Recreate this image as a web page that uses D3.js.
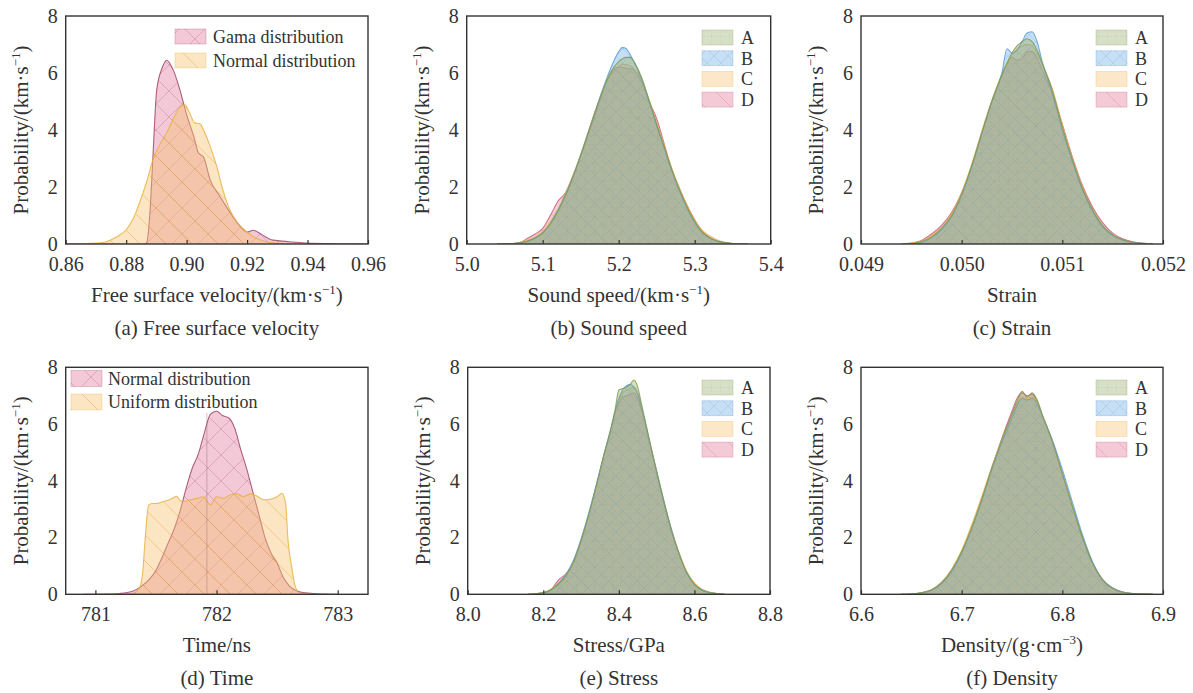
<!DOCTYPE html>
<html>
<head>
<meta charset="utf-8">
<script src="https://cdn.jsdelivr.net/npm/d3@7"></script>
<style>
  html, body { margin: 0; padding: 0; background: #fff; }
  svg { display: block; }
  text { font-family: "Liberation Serif", "Times New Roman", serif; fill: #333; }
</style>
</head>
<body>
<svg id="chart" width="1193" height="693"></svg>
<script>
// ---------------- DATA ----------------
const yTicks = [0, 2, 4, 6, 8];

// (a) Free surface velocity
const aTicks = [0.86, 0.88, 0.90, 0.92, 0.94, 0.96];
const aGamaX = [0.86,0.886,0.8868,0.8878,0.8888,0.8901,0.892,0.8934,0.8956,0.8978,0.9001,0.9023,0.9039,0.9056,0.9078,0.9111,0.9144,0.9177,0.92,0.922,0.925,0.928,0.93,0.935,0.94,0.95,0.96];
const aGamaY = [0,0,0.05,1.0,2.95,5.4,6.2,6.45,6.1,5.4,4.5,3.8,3.2,3.05,2.25,1.66,1.1,0.62,0.42,0.48,0.32,0.15,0.12,0.07,0.03,0.01,0];
const aNormX = [0.862,0.866,0.87,0.8735,0.877,0.88,0.8824,0.8846,0.8868,0.889,0.8912,0.8934,0.8956,0.8978,0.8994,0.901,0.9027,0.9044,0.906,0.9077,0.9099,0.912,0.9143,0.9165,0.9198,0.9231,0.9264,0.9319,0.94];
const aNormY = [0,0.01,0.03,0.08,0.26,0.5,0.9,1.5,2.2,3.0,3.5,3.9,4.4,4.8,4.88,4.6,4.25,4.22,3.9,3.45,2.75,1.9,1.2,0.8,0.43,0.2,0.08,0.02,0];

// (b) Sound speed
const bTicks = [5.0, 5.1, 5.2, 5.3, 5.4];
const bX = [5.04,5.06,5.07,5.08,5.09,5.10,5.11,5.12,5.13,5.14,5.15,5.16,5.17,5.18,5.19,5.20,5.205,5.21,5.215,5.22,5.23,5.24,5.25,5.26,5.27,5.28,5.29,5.30,5.31,5.32,5.33,5.34,5.35,5.37];
const bA = [0,0.01,0.04,0.1,0.2,0.38,0.7,1.15,1.7,2.35,3.1,3.9,4.7,5.45,6.05,6.4,6.5,6.55,6.55,6.4,5.85,5.05,4.2,3.4,2.6,1.9,1.3,0.78,0.42,0.22,0.1,0.05,0.02,0];
const bB = [0,0.01,0.04,0.1,0.22,0.4,0.72,1.18,1.72,2.38,3.12,3.92,4.72,5.5,6.2,6.75,6.9,6.85,6.65,6.4,5.8,5.0,4.15,3.35,2.55,1.85,1.25,0.75,0.4,0.2,0.1,0.04,0.02,0];
const bC = [0,0.02,0.06,0.14,0.25,0.45,0.78,1.22,1.78,2.42,3.15,3.95,4.75,5.45,6.0,6.25,6.3,6.3,6.25,6.15,5.75,5.05,4.25,3.45,2.65,1.95,1.35,0.82,0.48,0.28,0.14,0.06,0.02,0];
const bD = [0,0.01,0.05,0.2,0.35,0.55,1.0,1.5,1.8,2.4,3.1,3.85,4.6,5.4,6.0,6.2,6.2,6.15,6.15,6.1,5.7,5.0,4.4,3.5,2.6,1.95,1.35,0.85,0.45,0.22,0.1,0.04,0.01,0];

// (c) Strain
const cTicks = [0.049, 0.050, 0.051, 0.052];
const cX = [0.0494,0.0495,0.0496,0.0497,0.0498,0.0499,0.0500,0.0501,0.0502,0.0503,0.0504,0.05045,0.0505,0.05055,0.0506,0.05065,0.0507,0.05075,0.0508,0.0509,0.0510,0.0511,0.0512,0.0513,0.0514,0.0515,0.0516,0.0517,0.0518,0.0519];
const cA = [0,0.02,0.08,0.25,0.55,1.0,1.75,2.75,3.9,5.0,5.95,6.35,6.7,6.95,7.1,7.2,7.1,6.8,6.35,5.4,4.1,2.95,1.95,1.2,0.65,0.32,0.14,0.06,0.02,0];
const cB = [0,0.01,0.06,0.22,0.5,0.95,1.7,2.7,3.85,5.0,6.0,6.85,6.7,6.8,7.1,7.4,7.45,7.1,6.4,5.3,4.0,2.9,1.9,1.15,0.6,0.3,0.14,0.06,0.02,0];
const cC = [0,0.03,0.1,0.3,0.6,1.05,1.8,2.8,3.95,5.05,5.95,6.3,6.6,6.85,6.95,7.0,6.95,6.7,6.3,5.45,4.2,3.0,2.0,1.2,0.65,0.32,0.14,0.06,0.02,0];
const cD = [0,0.03,0.12,0.35,0.65,1.1,1.8,2.75,3.9,5.0,5.9,6.3,6.55,6.45,6.5,6.75,6.75,6.5,6.1,5.3,4.2,3.05,2.05,1.3,0.75,0.38,0.18,0.08,0.03,0];

// (d) Time
const dTicks = [781, 782, 783];
const dNormX = [780.9,781.1,781.2,781.3,781.35,781.4,781.45,781.5,781.55,781.6,781.65,781.7,781.75,781.8,781.85,781.9,781.95,782.0,782.05,782.1,782.15,782.2,782.25,782.3,782.35,782.4,782.45,782.5,782.55,782.6,782.65,782.7,782.8,782.9,783.0];
const dNormY = [0,0.01,0.03,0.1,0.2,0.35,0.55,0.85,1.3,1.8,2.3,2.95,3.75,4.45,4.95,5.7,6.35,6.45,6.3,6.22,5.85,5.1,4.4,3.6,2.8,2.0,1.45,1.1,0.6,0.3,0.14,0.07,0.03,0.01,0];
const dUniX = [781.0,781.3,781.36,781.39,781.41,781.44,781.47,781.51,781.56,781.62,781.67,781.7,781.73,781.78,781.84,781.89,781.95,782.0,782.06,782.11,782.17,782.22,782.28,782.33,782.39,782.44,782.5,782.54,782.57,782.59,782.62,782.65,782.69,782.8];
const dUniY = [0,0.02,0.2,0.75,1.9,3.15,3.2,3.2,3.27,3.35,3.45,3.3,3.27,3.33,3.38,3.44,3.15,3.44,3.38,3.5,3.54,3.44,3.54,3.47,3.33,3.35,3.44,3.56,3.2,1.9,0.97,0.27,0.03,0];
const dMeanX = 781.92;
const dMeanTop = 6.4;

// (e) Stress
const eTicks = [8.0, 8.2, 8.4, 8.6, 8.8];
const eX = [8.16,8.18,8.20,8.22,8.24,8.26,8.28,8.30,8.32,8.34,8.36,8.38,8.39,8.40,8.41,8.42,8.43,8.44,8.45,8.46,8.47,8.48,8.50,8.52,8.54,8.56,8.58,8.60,8.62,8.64,8.66,8.68];
const eA = [0,0.02,0.05,0.15,0.35,0.65,1.15,1.9,2.8,3.8,4.9,5.9,6.5,7.2,7.25,7.3,7.4,7.55,7.3,6.7,6.1,5.5,4.3,3.2,2.2,1.4,0.75,0.35,0.15,0.06,0.02,0];
const eB = [0,0.02,0.05,0.15,0.38,0.7,1.2,1.95,2.85,3.85,4.9,5.9,6.45,6.9,7.2,7.35,7.4,7.3,7.05,6.6,6.05,5.45,4.35,3.25,2.25,1.4,0.75,0.35,0.15,0.06,0.02,0];
const eC = [0,0.03,0.07,0.18,0.4,0.7,1.15,1.85,2.75,3.75,4.85,5.85,6.4,6.85,7.1,7.2,7.25,7.3,7.1,6.6,6.0,5.45,4.35,3.25,2.25,1.45,0.8,0.4,0.18,0.08,0.03,0];
const eD = [0,0.01,0.04,0.15,0.5,0.72,1.1,1.85,2.75,3.8,4.85,5.8,6.35,6.75,6.95,7.0,7.05,7.1,6.9,6.5,5.95,5.4,4.3,3.2,2.2,1.4,0.75,0.35,0.15,0.06,0.02,0];

// (f) Density
const fTicks = [6.6, 6.7, 6.8, 6.9];
const fX = [6.64,6.65,6.66,6.67,6.68,6.69,6.70,6.71,6.72,6.73,6.74,6.75,6.755,6.76,6.765,6.77,6.775,6.78,6.79,6.80,6.81,6.82,6.83,6.84,6.85,6.86,6.87,6.88,6.89];
const fA = [0,0.01,0.05,0.15,0.4,0.85,1.5,2.35,3.35,4.45,5.45,6.35,6.8,7.15,6.95,7.1,6.85,6.35,5.4,4.25,3.1,2.0,1.1,0.5,0.2,0.07,0.02,0.01,0];
const fB = [0,0.01,0.05,0.14,0.38,0.8,1.45,2.3,3.3,4.4,5.35,6.2,6.65,6.9,6.85,6.9,6.7,6.3,5.45,4.4,3.25,2.1,1.15,0.52,0.22,0.08,0.03,0.01,0];
const fC = [0,0.01,0.06,0.16,0.42,0.88,1.55,2.45,3.45,4.5,5.45,6.3,6.7,6.95,6.9,6.95,6.75,6.3,5.35,4.25,3.1,2.0,1.1,0.5,0.2,0.07,0.02,0.01,0];
const fD = [0,0.01,0.05,0.15,0.42,0.85,1.5,2.35,3.35,4.45,5.5,6.45,6.9,7.1,7.0,7.05,6.8,6.3,5.4,4.25,3.1,2.0,1.1,0.52,0.22,0.08,0.03,0.01,0];

const seriesNames = ["A", "B", "C", "D"];

// ---------------- STYLE ----------------
const STY = {
  pink:   { fill: "#e27d9f", op: 0.42, stroke: "#a0486a", pat: "patPink" },
  yellow: { fill: "#f6c26e", op: 0.42, stroke: "#e9b140", pat: "patYellow" },
  A: { fill: "#8fa860", op: 0.36, stroke: "#7f9c52", pat: "patA" },
  B: { fill: "#74b0e4", op: 0.40, stroke: "#5e9fd8", pat: "patB" },
  C: { fill: "#f7c87c", op: 0.42, stroke: "#f0b04c", pat: "patC" },
  D: { fill: "#e48aa4", op: 0.45, stroke: "#c65c7c", pat: "patD" }
};

const svg = d3.select("#chart");
const defs = svg.append("defs");
function linePattern(id, size, color, paths, width, dash) {
  const p = defs.append("pattern").attr("id", id).attr("patternUnits", "userSpaceOnUse")
    .attr("width", size).attr("height", size);
  paths.forEach(d => {
    const l = p.append("path").attr("d", d).attr("stroke", color).attr("stroke-width", width).attr("fill", "none");
    if (dash) l.attr("stroke-dasharray", dash);
  });
}
linePattern("patPink", 26, "rgba(150,60,95,0.3)", ["M0,0L26,26", "M-13,13L13,39", "M13,-13L39,13", "M0,26L26,0", "M-13,13L13,-13", "M13,39L39,13"], 0.8);
linePattern("patYellow", 26, "rgba(220,150,40,0.45)", ["M0,0L26,26", "M-13,13L13,39", "M13,-13L39,13"], 0.8);
linePattern("patA", 9, "rgba(110,140,70,0.3)", ["M0,0L0,9", "M0,0L9,0"], 0.6, "1,1");
linePattern("patB", 14, "rgba(80,140,200,0.3)", ["M0,0L14,14", "M0,14L14,0"], 0.6);
linePattern("patC", 20, "rgba(230,170,60,0.0)", ["M0,0L20,20"], 0.6);
linePattern("patD", 26, "rgba(190,70,110,0.3)", ["M0,0L26,26", "M-13,13L13,39", "M13,-13L39,13"], 0.7);

// ---------------- LAYOUT ----------------
const panels = [
  { key: "a", box: [65.7, 16, 368, 244], dom: [0.86, 0.96], ticks: aTicks, fmt: ".2f",
    xlabel: ["Free surface velocity/(km·s", "−1", ")"], caption: "(a) Free surface velocity",
    series: [{ x: aGamaX, y: aGamaY, s: "pink", name: "Gama distribution" },
             { x: aNormX, y: aNormY, s: "yellow", name: "Normal distribution" }],
    legend: { x: 175, y: 29, sw: 31, sh: 15, gap: 24, tx: 213, fs: 18 } },
  { key: "b", box: [466.7, 16, 770.7, 244], dom: [5.0, 5.4], ticks: bTicks, fmt: ".1f",
    xlabel: ["Sound speed/(km·s", "−1", ")"], caption: "(b) Sound speed",
    series: [bA, bB, bC, bD].map((y, i) => ({ x: bX, y: y, s: seriesNames[i], name: seriesNames[i] })),
    legend: { x: 702, y: 30, sw: 31, sh: 15, gap: 20.7, tx: 741, fs: 18 } },
  { key: "c", box: [861, 16, 1163, 244], dom: [0.049, 0.052], ticks: cTicks, fmt: ".3f",
    xlabel: ["Strain"], caption: "(c) Strain",
    series: [cA, cB, cC, cD].map((y, i) => ({ x: cX, y: y, s: seriesNames[i], name: seriesNames[i] })),
    legend: { x: 1096, y: 30, sw: 31, sh: 15, gap: 20.7, tx: 1135, fs: 18 } },
  { key: "d", box: [65.7, 367.3, 368, 594.3], dom: [780.755, 783.25], ticks: dTicks, fmt: "d",
    xlabel: ["Time/ns"], caption: "(d) Time",
    series: [{ x: dNormX, y: dNormY, s: "pink", name: "Normal distribution" },
             { x: dUniX, y: dUniY, s: "yellow", name: "Uniform distribution" }],
    legend: { x: 71, y: 370.5, sw: 31, sh: 16, gap: 23.5, tx: 108, fs: 18 } },
  { key: "e", box: [467.7, 367.3, 770, 594.3], dom: [8.0, 8.8], ticks: eTicks, fmt: ".1f",
    xlabel: ["Stress/GPa"], caption: "(e) Stress",
    series: [eA, eB, eC, eD].map((y, i) => ({ x: eX, y: y, s: seriesNames[i], name: seriesNames[i] })),
    legend: { x: 702, y: 380, sw: 31, sh: 15, gap: 20.7, tx: 741, fs: 18 } },
  { key: "f", box: [861, 367.3, 1163, 594.3], dom: [6.6, 6.9], ticks: fTicks, fmt: ".1f",
    xlabel: ["Density/(g·cm", "−3", ")"], caption: "(f) Density",
    series: [fA, fB, fC, fD].map((y, i) => ({ x: fX, y: y, s: seriesNames[i], name: seriesNames[i] })),
    legend: { x: 1096, y: 380, sw: 31, sh: 15, gap: 20.7, tx: 1135, fs: 18 } }
];

const FS = 20;   // tick labels
const LFS = 21;  // axis titles and captions

panels.forEach(p => {
  const [x0, y0, x1, y1] = p.box;
  const xs = d3.scaleLinear().domain(p.dom).range([x0, x1]);
  const ys = d3.scaleLinear().domain([0, 8]).range([y1, y0]);
  const g = svg.append("g");
  const clipId = "clip" + p.key;
  defs.append("clipPath").attr("id", clipId).append("rect")
    .attr("x", x0).attr("y", y0).attr("width", x1 - x0).attr("height", y1 - y0);
  const plot = g.append("g").attr("clip-path", `url(#${clipId})`);

  const area = d3.area().x(d => xs(d[0])).y0(ys(0)).y1(d => ys(d[1])).curve(d3.curveMonotoneX);
  const line = d3.line().x(d => xs(d[0])).y(d => ys(d[1])).curve(d3.curveMonotoneX);

  const drawOrder = p.series.length === 4 ? p.series.slice().reverse() : p.series;
  drawOrder.forEach(se => {
    const st = STY[se.s];
    const pts = se.x.map((v, i) => [v, se.y[i]]);
    plot.append("path").attr("d", area(pts)).attr("fill", st.fill).attr("fill-opacity", st.op);
    plot.append("path").attr("d", area(pts)).attr("fill", `url(#${st.pat})`);
    plot.append("path").attr("d", line(pts)).attr("fill", "none").attr("stroke", st.stroke)
      .attr("stroke-width", 1.1).attr("stroke-opacity", 0.85);
  });

  if (p.key === "d") {
    plot.append("line").attr("x1", xs(dMeanX)).attr("x2", xs(dMeanX))
      .attr("y1", ys(0)).attr("y2", ys(dMeanTop))
      .attr("stroke", "rgba(150,80,100,0.45)").attr("stroke-width", 0.8);
  }

  // x axis (inward ticks)
  const xAxis = d3.axisBottom(xs).tickValues(p.ticks).tickFormat(d3.format(p.fmt))
    .tickSizeInner(-4).tickSizeOuter(0).tickPadding(13);
  const gx = g.append("g").attr("transform", `translate(0,${y1})`).call(xAxis);
  gx.select(".domain").remove();
  gx.selectAll(".tick line").attr("stroke", "#333").attr("stroke-width", 1.2);
  gx.selectAll(".tick text").attr("font-size", FS).attr("fill", "#333")
    .style("font-family", '"Liberation Serif", "Times New Roman", serif');

  // y axis
  const yAxis = d3.axisLeft(ys).tickValues(yTicks).tickFormat(d3.format("d"))
    .tickSize(0).tickPadding(8);
  const gy = g.append("g").attr("transform", `translate(${x0},0)`).call(yAxis);
  gy.select(".domain").remove();
  gy.selectAll(".tick text").attr("font-size", FS).attr("fill", "#333")
    .style("font-family", '"Liberation Serif", "Times New Roman", serif');

  // frame
  g.append("rect").attr("x", x0).attr("y", y0).attr("width", x1 - x0).attr("height", y1 - y0)
    .attr("fill", "none").attr("stroke", "#333").attr("stroke-width", 1.4);

  // x label
  const cx = (x0 + x1) / 2;
  const xl = g.append("text").attr("x", cx).attr("y", y1 + 58).attr("text-anchor", "middle")
    .attr("font-size", LFS);
  xl.append("tspan").text(p.xlabel[0]);
  if (p.xlabel.length > 1) {
    xl.append("tspan").attr("dy", -8).attr("font-size", 13).text(p.xlabel[1]);
    xl.append("tspan").attr("dy", 8).text(p.xlabel[2]);
  }
  // caption
  g.append("text").attr("x", cx).attr("y", y1 + 91).attr("text-anchor", "middle")
    .attr("font-size", LFS).text(p.caption);

  // y label
  const cy = (y0 + y1) / 2;
  const yl = g.append("text").attr("transform", `translate(${x0 - 38},${cy}) rotate(-90)`)
    .attr("text-anchor", "middle").attr("font-size", LFS);
  yl.append("tspan").text("Probability/(km·s");
  yl.append("tspan").attr("dy", -8).attr("font-size", 13).text("−1");
  yl.append("tspan").attr("dy", 8).text(")");

  // legend
  const L = p.legend;
  p.series.forEach((se, i) => {
    const st = STY[se.s];
    const yy = L.y + i * L.gap;
    g.append("rect").attr("x", L.x).attr("y", yy).attr("width", L.sw).attr("height", L.sh)
      .attr("fill", st.fill).attr("fill-opacity", st.op);
    g.append("rect").attr("x", L.x).attr("y", yy).attr("width", L.sw).attr("height", L.sh)
      .attr("fill", `url(#${st.pat})`).attr("stroke", st.stroke).attr("stroke-opacity", 0.35)
      .attr("stroke-width", 0.8);
    g.append("text").attr("x", L.tx).attr("y", yy + L.sh / 2).attr("dy", "0.35em")
      .attr("font-size", L.fs).text(se.name);
  });
});
</script>
</body>
</html>
